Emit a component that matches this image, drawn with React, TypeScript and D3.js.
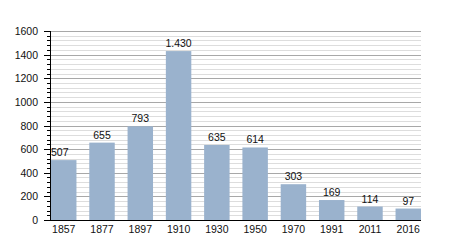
import React from "react";
import * as d3 from "d3";

const years = ["1857", "1877", "1897", "1910", "1930", "1950", "1970", "1991", "2011", "2016"];
const population = [507, 655, 793, 1430, 635, 614, 303, 169, 114, 97];
const valueLabels = ["507", "655", "793", "1.430", "635", "614", "303", "169", "114", "97"];
const majorTicks = [0, 200, 400, 600, 800, 1000, 1200, 1400, 1600];
const minorTicks = d3.range(0, 1601, 40);

export default function App() {
  const W = 450, H = 250;
  const x = d3.scaleBand<string>().domain(years).range([51, 421]).paddingInner(0.335).paddingOuter(0);
  const y = d3.scaleLinear().domain([0, 1600]).range([220, 31]);
  const font = "'Liberation Sans', Arial, sans-serif";
  return (
    <svg width={W} height={H} style={{ position: "absolute", left: 0, top: 0 }}>
      <rect width={W} height={H} fill="#fff" />
      {minorTicks.filter(t => t % 200 !== 0).map(t => (
        <line key={"m" + t} x1={50} x2={421} y1={Math.round(y(t)) + 0.5} y2={Math.round(y(t)) + 0.5} stroke="#dddddd" strokeWidth={1} />
      ))}
      {majorTicks.filter(t => t !== 0).map(t => (
        <line key={"M" + t} x1={50} x2={421} y1={Math.round(y(t)) + 0.5} y2={Math.round(y(t)) + 0.5} stroke="#a8a8a8" strokeWidth={1} />
      ))}
      {population.map((v, i) => (
        <rect key={years[i]} x={x(years[i])} y={y(v)} width={x.bandwidth()} height={y(0) - y(v)} fill="#9ab2cd" />
      ))}
      {population.map((v, i) => (
        <text key={"t" + i} x={(x(years[i]) as number) + x.bandwidth() / 2 - (i === 0 ? 4 : 0)} y={y(v) - 4} textAnchor="middle" fontFamily={font} fontSize={10.5} fill="#111">{valueLabels[i]}</text>
      ))}
      {/* axis */}
      <line x1={50.5} x2={50.5} y1={y(1600)} y2={y(0)} stroke="#000" strokeWidth={1} />
      <line x1={50} x2={421} y1={Math.round(y(0)) + 0.5} y2={Math.round(y(0)) + 0.5} stroke="#000" strokeWidth={1} />
      {minorTicks.map(t => (
        <line key={"tk" + t} x1={t % 200 === 0 ? 44 : 47} x2={51} y1={Math.round(y(t)) + 0.5} y2={Math.round(y(t)) + 0.5} stroke="#000" strokeWidth={1} />
      ))}
      {majorTicks.map(t => (
        <text key={"yl" + t} x={38} y={y(t) + 4} textAnchor="end" fontFamily={font} fontSize={10.5} fill="#111">{t}</text>
      ))}
      {years.map(yr => (
        <text key={"xl" + yr} x={(x(yr) as number) + x.bandwidth() / 2} y={233} textAnchor="middle" fontFamily={font} fontSize={10.5} fill="#111">{yr}</text>
      ))}
    </svg>
  );
}
